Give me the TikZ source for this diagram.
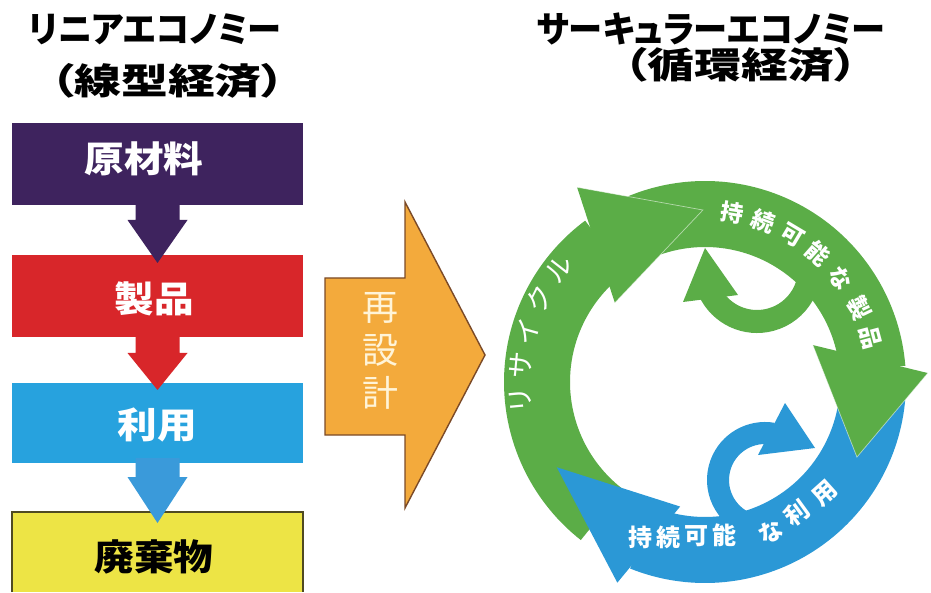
\documentclass[tikz,border=0pt]{standalone}
\usepackage{fontspec}
\usepackage{graphicx}
\usetikzlibrary{calc}
\newfontfamily\jp{Noto Sans CJK JP}
\newfontfamily\jpp{Noto Sans CJK JP}[RawFeature=+palt]
\newcommand\sx[2][1.1]{\scalebox{#1}[1]{#2}}
\definecolor{purpleC}{HTML}{3E235E}
\definecolor{redC}{HTML}{D8262A}
\definecolor{blueBox}{HTML}{27A2DE}
\definecolor{blueArr}{HTML}{3A9ADA}
\definecolor{yellowC}{HTML}{EDE445}
\definecolor{yellowLine}{HTML}{4F4A22}
\definecolor{orangeC}{HTML}{F3AA3C}
\definecolor{orangeLine}{HTML}{7B4A28}
\definecolor{creamC}{HTML}{FFF4D8}
\definecolor{greenC}{HTML}{5BAD47}
\definecolor{blueC}{HTML}{2B98D6}
\begin{document}
\begin{tikzpicture}[x=1pt,y=1pt,
  box/.style={inner sep=0, outer sep=0, minimum width=291pt, minimum height=#1},
  title/.style={inner sep=0, font=\jpp\bfseries\fontsize{36}{36}\selectfont},
  boxtext/.style={inner sep=0, font=\jp\bfseries\fontsize{36}{36}\selectfont},
  ringtext/.style={inner sep=0, text=white, font=\jp\bfseries\fontsize{23}{23}\selectfont},
  usetext/.style={inner sep=0, text=white, font=\jp\bfseries\fontsize{24}{24}\selectfont},
  lighttext/.style={inner sep=0, text=white, font=\jp\fontsize{27}{27}\selectfont},
  redesign/.style={inner sep=0, text=creamC, font=\jp\fontsize{36}{36}\selectfont},
  headline/.style={draw=white, draw opacity=0.55, line width=0.7pt, line join=miter}
]
\useasboundingbox (0,0) rectangle (931,592);
\fill[white] (0,0) rectangle (931,592);

% ---------- titles ----------
\node[title] (tl1) at (155,563) {\sx[0.95]{リニアエコノミー}};
\node[title] (tl2) at (168,511) {\sx[1.3]{（線型経済）}};
\node[title] (tr1) at (711,563) {\sx[0.95]{サーキュラーエコノミー}};
\node[title] (tr2) at (741,527) {\sx[1.3]{（循環経済）}};

% ---------- linear economy ----------
\node[box=82pt, fill=purpleC] (pbox) at (157.5,428) {};
\node[box=82pt, fill=redC] (rbox) at (157.5,296) {};
\node[box=80pt, fill=blueBox] (bbox) at (157.5,169) {};
\node[box=80pt, fill=yellowC] (ybox) at (157.5,40) {};
\draw[yellowLine, line width=1.5pt] (ybox.south west) |- (ybox.north east) -- (ybox.south east);

\fill[purpleC] ($(pbox.south)+(-22,5)$) -- ++(0,-20) -- ++(-8,0) -- ($(pbox.south)+(0,-58)$)
  -- ($(pbox.south)+(30,-15)$) -- ++(-8,0) -- ++(0,20) -- cycle;
\fill[redC] ($(rbox.south)+(-22,5)$) -- ++(0,-21) -- ++(-8,0) -- ($(rbox.south)+(0,-53)$)
  -- ($(rbox.south)+(30,-16)$) -- ++(-8,0) -- ++(0,21) -- cycle;
\fill[blueArr] ($(bbox.south)+(-22,5)$) -- ++(0,-19) -- ++(-8,0) -- ($(bbox.south)+(0,-60)$)
  -- ($(bbox.south)+(30,-14)$) -- ++(-8,0) -- ++(0,19) -- cycle;

\node[boxtext, text=white] (t1) at (144,433) {\sx{原材料}};
\node[boxtext, text=white] (t2) at (154,293) {\sx{製品}};
\node[boxtext, text=white] (t3) at (157,167) {\sx{利用}};
\node[boxtext, text=black] (t4) at (154,35) {\sx{廃棄物}};

% ---------- redesign arrow ----------
\draw[fill=orangeC, draw=orangeLine, line width=1.4pt, line join=miter]
  (325,157) -- (405,157) -- (405,84) -- (485,237) -- (405,390) -- (405,314) -- (325,314) -- cycle;
\node[redesign] (re1) at (380,284) {再};
\node[redesign] (re2) at (380,242) {設};
\node[redesign] (re3) at (380,199) {計};

% ---------- circular economy ----------
\coordinate (C) at (705,210);
\coordinate (GC) at (757,323);
\coordinate (BC) at (765,112);
% blue body (use)
\draw[blueC, line width=66pt] ([shift={(C)}]0:168) arc[start angle=0, end angle=-112, radius=168];
% green body (product) + head
\draw[greenC, line width=66pt] ([shift={(C)}]115:168) arc[start angle=115, end angle=4.5, radius=168];
\fill[greenC] ($(C)+(2.3:223)$) -- ($(C)+(-26.3:169.5)$) -- ($(C)+(18.9:114)$) -- cycle;
\draw[headline] ($(C)+(2.3:223)$) -- ($(C)+(-26.3:169.5)$) -- ($(C)+(18.9:114)$);
% small green curl
\draw[greenC, line width=23pt] ([shift={(GC)}]15:52.5) arc[start angle=15, end angle=-155, radius=52.5];
\coordinate (gt) at (705,344);
\coordinate (gl) at (683,290);
\coordinate (gr) at (738,297);
\fill[greenC] (gt) -- (gl) -- (gr) -- cycle;
% green body (recycle) + head
\draw[greenC, line width=66pt] ([shift={(C)}]232:168) arc[start angle=232, end angle=126.5, radius=168];
\fill[greenC] ($(C)+(123.3:233)$) -- ($(C)+(90.7:172)$) -- ($(C)+(138.7:120)$) -- cycle;
\draw[headline] ($(C)+(123.3:233)$) -- ($(C)+(90.7:172)$) -- ($(C)+(138.7:120)$);
% blue head
\fill[blueC] ($(C)+(246.4:219)$) -- ($(C)+(209.9:171)$) -- ($(C)+(258.7:127)$) -- cycle;
% small blue curl
\draw[blueC, line width=22pt] ([shift={(BC)}]250:47) arc[start angle=250, end angle=80, radius=47];
\coordinate (bt) at (815,144);
\coordinate (bu) at (785,189);
\coordinate (bl) at (758,137);
\fill[blueC] (bt) -- (bu) -- (bl) -- cycle;

% ring texts
\foreach \ch/\a [count=\i] in {リ/185.5,サ/174.8,イ/164.1,ク/153.4,ル/142.2}
  \node[lighttext, rotate=\a-90] (rc\i) at ($(C)+(\a:185)$) {\ch};
\foreach \ch/\a [count=\i] in {持/80.8,続/70,可/59.2,能/48.5,な/37.5,製/25.8,品/15}
  \node[ringtext, rotate=\a-90] (pc\i) at ($(C)+(\a:171)$) {\ch};
\node[usetext] (u1) at (640,55) {持};
\node[usetext] (u2) at (668,55) {続};
\node[usetext] (u3) at (696,56) {可};
\node[usetext] (u4) at (724,57) {能};
\node[usetext, rotate=28] (u5) at (771,60) {な};
\node[usetext, rotate=36] (u6) at (797,79) {利};
\node[usetext, rotate=42] (u7) at (825,99) {用};
\end{tikzpicture}
\end{document}
